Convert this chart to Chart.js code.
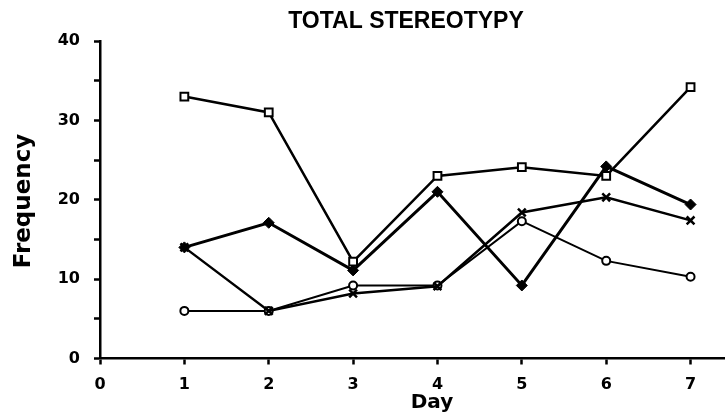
<!DOCTYPE html>
<html>
<head>
<meta charset="utf-8">
<script src="https://cdn.jsdelivr.net/npm/chart.js@4/dist/chart.umd.min.js"></script>
<style>
  html, body { margin: 0; padding: 0; background: #fff; overflow: hidden; }
  #wrap { width: 725px; height: 420px; position: relative; overflow: hidden; }
  #c { display: block; }
</style>
</head>
<body>
<div id="wrap"><canvas id="c" width="734" height="420"></canvas></div>
<script>
// Days of observation and total stereotypy frequency per group
const days = [1, 2, 3, 4, 5, 6, 7];
const squareGroup  = [33, 31, 12.2, 23, 24.1, 23, 34.2];
const diamondGroup = [14, 17.1, 11.1, 21, 9.2, 24.2, 19.4];
const crossGroup   = [14, 6, 8.2, 9.1, 18.4, 20.3, 17.4];
const circleGroup  = [6, 6, 9.2, 9.2, 17.3, 12.3, 10.3];
const yTicks = [0, 10, 20, 30, 40];
const xTicks = [0, 1, 2, 3, 4, 5, 6, 7];

const titleText = 'TOTAL STEREOTYPY';
const yTitle = 'Frequency';
const xTitle = 'Day';

const pts = vals => days.map((d, i) => ({ x: d, y: vals[i] }));

const INK = '#000';

// Draws the heading and both axis titles
const labelsPlugin = {
  id: 'labels',
  afterDraw(chart) {
    const ctx = chart.ctx;
    ctx.save();
    ctx.fillStyle = INK;
    ctx.textAlign = 'center';
    ctx.textBaseline = 'middle';
    ctx.font = 'bold 23px "Liberation Sans", Arial, sans-serif';
    ctx.fillText(titleText, 406, 22);
    ctx.font = 'bold 20px "DejaVu Sans", sans-serif';
    ctx.fillText(xTitle, 432, 403);
    ctx.translate(24, 201);
    ctx.rotate(-Math.PI / 2);
    ctx.font = 'bold 23px "DejaVu Sans", sans-serif';
    ctx.fillText(yTitle, 0, 0);
    ctx.restore();
  }
};

const common = {
  borderColor: INK,
  pointBorderColor: INK,
  fill: false,
  tension: 0
};

new Chart(document.getElementById('c'), {
  type: 'line',
  data: {
    datasets: [
      Object.assign({}, common, {
        label: 'square',
        data: pts(squareGroup),
        borderWidth: 2.5,
        pointStyle: 'rect',
        pointRadius: 5.5,
        pointBorderWidth: 2,
        pointBackgroundColor: '#fff'
      }),
      Object.assign({}, common, {
        label: 'diamond',
        data: pts(diamondGroup),
        borderWidth: 3,
        pointStyle: 'rectRot',
        pointRadius: 5.5,
        pointBorderWidth: 1,
        pointBackgroundColor: INK
      }),
      Object.assign({}, common, {
        label: 'cross',
        data: pts(crossGroup),
        borderWidth: 2.5,
        pointStyle: 'crossRot',
        pointRadius: 5.5,
        pointBorderWidth: 2.5,
        pointBackgroundColor: INK
      }),
      Object.assign({}, common, {
        label: 'circle',
        data: pts(circleGroup),
        borderWidth: 2,
        pointStyle: 'circle',
        pointRadius: 4,
        pointBorderWidth: 2,
        pointBackgroundColor: '#fff'
      })
    ]
  },
  options: {
    responsive: false,
    animation: false,
    layout: { padding: { top: 41, left: 0, right: 0, bottom: 0 } },
    plugins: {
      legend: { display: false },
      title: { display: false },
      tooltip: { enabled: false }
    },
    scales: {
      x: {
        type: 'linear',
        min: xTicks[0],
        max: 7.42,
        afterBuildTicks: s => { s.ticks = xTicks.map(v => ({ value: v })); },
        ticks: {
          includeBounds: false,
          color: INK,
          padding: 11,
          font: { family: '"DejaVu Sans", sans-serif', weight: 'bold', size: 16 },
          maxRotation: 0
        },
        grid: { drawOnChartArea: false, tickLength: 6, tickWidth: 2.5, tickColor: INK },
        border: { color: INK, width: 2.5 },
        afterFit: s => { s.height = 61.5; }
      },
      y: {
        type: 'linear',
        min: yTicks[0],
        max: yTicks[yTicks.length - 1],
        ticks: {
          stepSize: 5,
          includeBounds: false,
          color: INK,
          padding: 14,
          font: { family: '"DejaVu Sans", sans-serif', weight: 'bold', size: 16 },
          callback: v => (yTicks.includes(v) ? String(v) : '')
        },
        grid: { drawOnChartArea: false, tickLength: 6, tickWidth: 2.5, tickColor: INK },
        border: { color: INK, width: 2.5 },
        afterFit: s => { s.width = 100; }
      }
    }
  },
  plugins: [labelsPlugin]
});
</script>
</body>
</html>
